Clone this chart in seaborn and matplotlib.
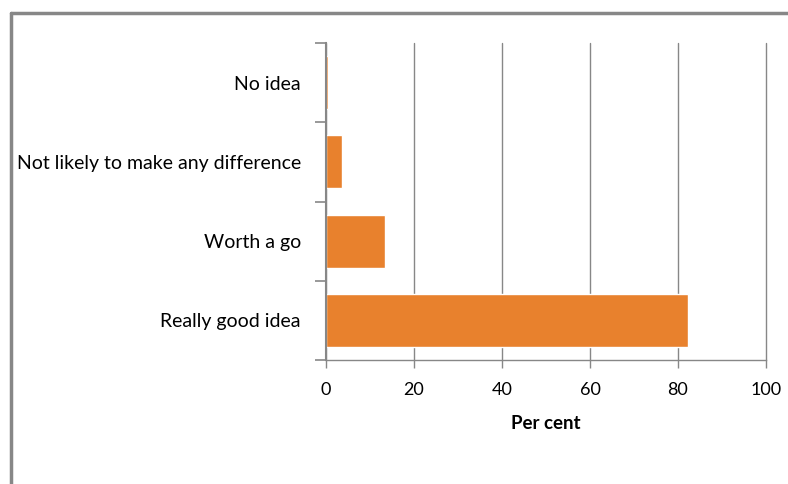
import matplotlib
matplotlib.use("Agg")
import matplotlib.pyplot as plt
from matplotlib.lines import Line2D
import seaborn as sns
import pandas as pd

categories = ["No idea", "Not likely to make any difference", "Worth a go", "Really good idea"]
values = [0.4, 3.6, 13.4, 82.2]
x_ticks = [0, 20, 40, 60, 80, 100]

sns.set_theme(style="white")
plt.rcParams["font.family"] = ["Lato", "DejaVu Sans"]

df = pd.DataFrame({"category": categories, "percent": values})

fig = plt.figure(figsize=(7.88, 4.84), dpi=100)
ax = fig.add_axes([326 / 788, 1 - 360 / 484, 440 / 788, 317 / 484])

sns.barplot(data=df, x="percent", y="category", order=categories,
            color="#E8812D", saturation=1, width=0.67, ax=ax, zorder=3)

grey = "#878787"
ax.set_xlim(0, 100)
ax.set_ylim(3.5, -0.5)
ax.set_xticks(x_ticks)
ax.set_xticklabels([str(t) for t in x_ticks])
ax.grid(axis="x", color=grey, linewidth=1.0, zorder=0)
ax.grid(axis="y", visible=False)
for gl in ax.get_xgridlines():
    gl.set_clip_on(False)

# category ticks sit between bars
ax.set_yticks(range(len(categories)))
ax.set_yticklabels(categories)
ax.set_yticks([i - 0.5 for i in range(len(categories) + 1)], minor=True)
ax.tick_params(axis="y", which="major", length=0, pad=18, labelsize=14, colors="#000000")
ax.tick_params(axis="y", which="minor", length=8, width=1.2, color=grey, left=True)
ax.tick_params(axis="x", which="major", length=6, width=1.0, color=grey, bottom=True,
               direction="out", pad=10, labelsize=13, labelcolor="#000000")

for side in ["top", "right"]:
    ax.spines[side].set_visible(False)
ax.spines["left"].set_color(grey)
ax.spines["left"].set_linewidth(1.5)
ax.spines["bottom"].set_color(grey)
ax.spines["bottom"].set_linewidth(1.0)
ax.spines["left"].set_zorder(4)

ax.set_ylabel("")
ax.set_xlabel("Per cent", fontsize=13.5, fontweight="bold", labelpad=12, color="#000000")

# outer frame lines along top and left
fig.add_artist(Line2D([10.5 / 788, 1.0], [1 - 13 / 484, 1 - 13 / 484],
                      transform=fig.transFigure, color=grey, linewidth=2.5))
fig.add_artist(Line2D([10.5 / 788, 10.5 / 788], [0.0, 1 - 13 / 484],
                      transform=fig.transFigure, color=grey, linewidth=2.5))

fig.savefig("out.png", dpi=100)
